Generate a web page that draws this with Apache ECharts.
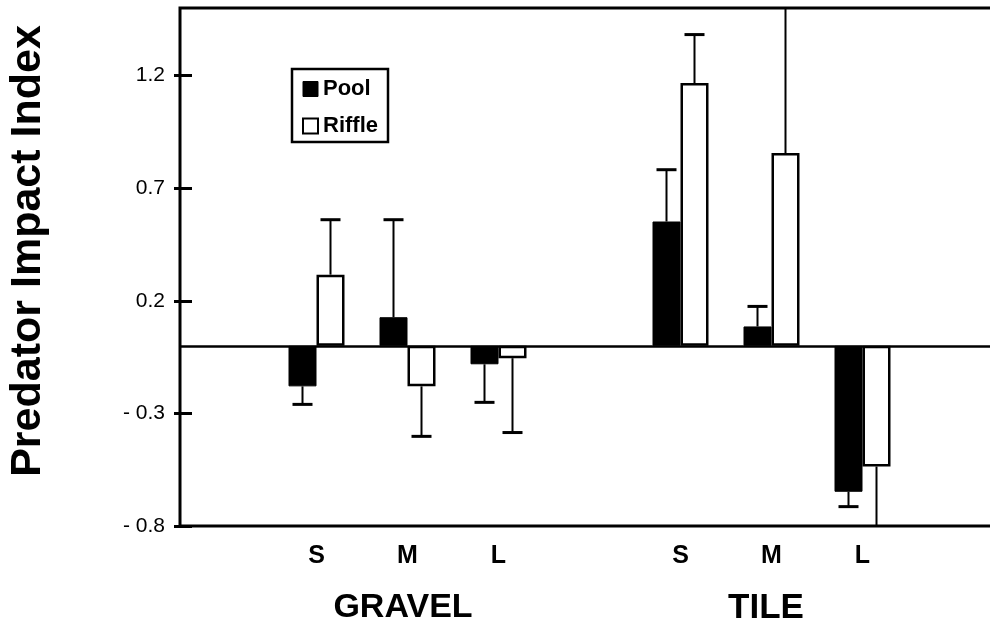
<!DOCTYPE html>
<html>
<head>
<meta charset="utf-8">
<script src="https://cdn.jsdelivr.net/npm/echarts@6/dist/echarts.min.js"></script>
<style>
  html, body { margin: 0; padding: 0; background: #fff; overflow: hidden; }
  /* a little wider than the window: the right frame edge falls outside the picture */
  #chart { width: 1000px; height: 629px; }
</style>
</head>
<body>
<div id="chart"></div>
<script>
// categories (empty slots give the gaps at both ends and between groups)
const categories = ['', 'S', 'M', 'L', '', 'S', 'M', 'L', '']
const groups = ['GRAVEL', 'TILE']

// bar heights
const poolValues = [null, -0.18, 0.127, -0.082, null, 0.552, 0.086, -0.648, null]
const riffleValues = [null, 0.316, -0.18, -0.055, null, 1.167, 0.856, -0.536, null]

// error bar lengths (drawn away from zero)
const poolErrors = [null, 0.08, 0.433, 0.169, null, 0.23, 0.089, 0.066, null]
const riffleErrors = [null, 0.244, 0.222, 0.33, null, 0.215, 0.70, 0.30, null]

// y ticks
const yTicks = [-0.8, -0.3, 0.2, 0.7, 1.2]
const yMin = -0.8
const yMax = 1.5

const FONT = "'Liberation Sans', Arial, Helvetica, sans-serif"
const BAR_W = 28

const chart = echarts.init(document.getElementById('chart'), null, { renderer: 'canvas' })

// error bar data: [category index, value, error]
const errData = (vals, errs) => vals
  .map((v, i) => (v == null ? null : [i, v, errs[i]]))
  .filter(d => d)

const errorBarSeries = (name, vals, errs, shift) => ({
  name: name,
  type: 'custom',
  silent: true,
  z: 5,
  data: errData(vals, errs),
  encode: { x: 0, y: 1 },
  renderItem: (params, api) => {
    const cat = api.value(0)
    const v = api.value(1)
    const e = api.value(2)
    const end = v + (v >= 0 ? e : -e)
    const base = api.coord([cat, v])
    const tip = api.coord([cat, end])
    const cs = params.coordSys
    const x = base[0] + shift
    const y2 = Math.max(cs.y, Math.min(cs.y + cs.height, tip[1]))
    const clipped = Math.abs(y2 - tip[1]) > 0.5
    const children = [{
      type: 'line',
      shape: { x1: x, y1: base[1], x2: x, y2: y2 },
      style: { stroke: '#000', lineWidth: 2 }
    }]
    if (!clipped) {
      children.push({
        type: 'line',
        shape: { x1: x - 10, y1: y2, x2: x + 10, y2: y2 },
        style: { stroke: '#000', lineWidth: 3 }
      })
    }
    return { type: 'group', children: children }
  }
})

const fmtTick = v => (v < 0 ? '- ' + Math.abs(v).toFixed(1) : v.toFixed(1))

chart.setOption({
  backgroundColor: '#fff',
  animation: false,
  textStyle: { fontFamily: FONT, color: '#000' },
  grid: {
    left: 180,
    right: 1,
    top: 8,
    bottom: 103,
    show: true,
    borderColor: '#000',
    borderWidth: 3,
    backgroundColor: 'transparent'
  },
  legend: {
    orient: 'vertical',
    left: 292,
    top: 69,
    padding: [9, 10, 5, 10],
    itemWidth: 15,
    itemHeight: 15,
    itemGap: 15,
    itemTextGap: 4,
    icon: 'rect',
    borderColor: '#000',
    borderWidth: 2.5,
    backgroundColor: '#fff',
    textStyle: { fontFamily: FONT, fontSize: 22, fontWeight: 'bold', color: '#000', lineHeight: 22 },
    data: [
      { name: 'Pool', itemStyle: { color: '#000', borderColor: '#000', borderWidth: 1 } },
      { name: 'Riffle', itemStyle: { color: '#fff', borderColor: '#000', borderWidth: 2 } }
    ]
  },
  xAxis: {
    type: 'category',
    data: categories,
    boundaryGap: true,
    axisLine: { show: false, onZero: false },
    axisTick: { show: false },
    splitLine: { show: false },
    axisLabel: {
      interval: 0,
      margin: 18,
      fontFamily: FONT,
      fontSize: 25,
      fontWeight: 'bold',
      color: '#000'
    }
  },
  yAxis: [
    {
      type: 'value',
      position: 'left',
      min: yMin,
      max: yMax,
      axisLine: { show: false },
      axisTick: { show: false },
      axisLabel: { show: false },
      splitLine: { show: false }
    },
    {
      // tick/label axis, shifted right so the ticks cross the frame
      type: 'value',
      position: 'left',
      offset: -12,
      min: yMin,
      max: yMax,
      axisLine: { show: false },
      axisTick: {
        show: true,
        length: 18,
        customValues: yTicks,
        lineStyle: { color: '#000', width: 3 }
      },
      axisLabel: {
        customValues: yTicks,
        margin: 27,
        fontFamily: FONT,
        fontSize: 21,
        color: '#000',
        formatter: fmtTick
      },
      splitLine: { show: false }
    }
  ],
  series: [
    {
      name: 'Pool',
      type: 'bar',
      data: poolValues,
      barWidth: BAR_W,
      barGap: '0%',
      itemStyle: { color: '#000', borderColor: '#000', borderWidth: 1 },
      markLine: {
        silent: true,
        symbol: 'none',
        label: { show: false },
        lineStyle: { color: '#000', width: 2.5, type: 'solid' },
        data: [{ yAxis: 0 }]
      }
    },
    {
      name: 'Riffle',
      type: 'bar',
      data: riffleValues,
      barWidth: BAR_W,
      barGap: '0%',
      itemStyle: { color: '#fff', borderColor: '#000', borderWidth: 2.5 }
    },
    errorBarSeries('Pool err', poolValues, poolErrors, -BAR_W / 2),
    errorBarSeries('Riffle err', riffleValues, riffleErrors, BAR_W / 2)
  ],
  graphic: [
    {
      type: 'text',
      x: 28,
      y: 251,
      rotation: Math.PI / 2,
      style: {
        text: 'Predator Impact Index',
        fontFamily: FONT,
        fontSize: 43,
        fontWeight: 'bold',
        fill: '#000',
        align: 'center',
        verticalAlign: 'middle'
      }
    },
    {
      type: 'text',
      x: 403,
      y: 608,
      style: {
        text: groups[0],
        fontFamily: FONT,
        fontSize: 34,
        fontWeight: 'bold',
        fill: '#000',
        align: 'center',
        verticalAlign: 'middle'
      }
    },
    {
      type: 'text',
      x: 766,
      y: 608,
      style: {
        text: groups[1],
        fontFamily: FONT,
        fontSize: 35,
        fontWeight: 'bold',
        fill: '#000',
        align: 'center',
        verticalAlign: 'middle'
      }
    }
  ]
})
</script>
</body>
</html>
